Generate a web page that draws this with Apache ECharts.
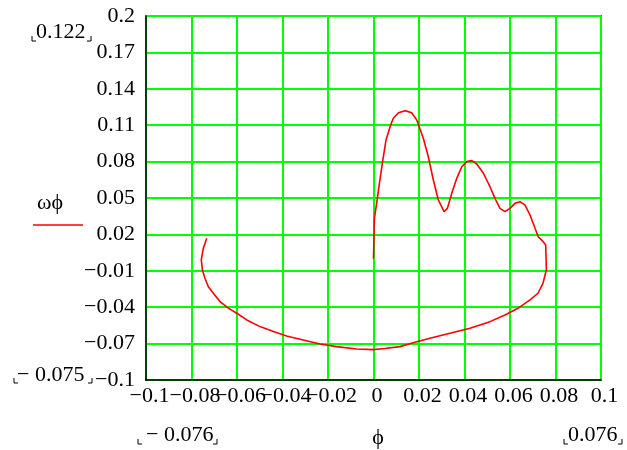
<!DOCTYPE html>
<html>
<head>
<meta charset="utf-8">
<script src="https://cdn.jsdelivr.net/npm/echarts@6/dist/echarts.min.js"></script>
<style>
  html, body { margin: 0; padding: 0; background: #fff; }
  #chart { width: 627px; height: 450px; }
</style>
</head>
<body>
<div id="chart"></div>
<script>
// Phase trajectory: angle phi against angular velocity omega-phi
const phi = [
  0, 0.0004, 0.0016, 0.0025, 0.004, 0.0055, 0.0073, 0.0087, 0.011, 0.0138,
  0.0168, 0.019, 0.0219, 0.0241, 0.0263, 0.0285, 0.031, 0.0325, 0.0344, 0.0366,
  0.0388, 0.041, 0.0432, 0.0454, 0.0483, 0.0512, 0.0534, 0.0556, 0.0578, 0.06,
  0.0622, 0.0644, 0.0666, 0.0688, 0.071, 0.0724, 0.0746, 0.0757, 0.076, 0.0756,
  0.0745, 0.0723, 0.0688, 0.0635, 0.0578, 0.0512, 0.0424, 0.0336, 0.0248, 0.0182,
  0.0116, 0.005, 0.0, -0.0074, -0.0162, -0.0235, -0.0309, -0.0382, -0.044, -0.0499,
  -0.0557, -0.0601, -0.0638, -0.0675, -0.0704, -0.0726, -0.0741, -0.0752, -0.0757, -0.0748,
  -0.0733
];
const omega = [
  0, 0.0333, 0.0484, 0.0607, 0.080, 0.0978, 0.1088, 0.1157, 0.1203, 0.122,
  0.1203, 0.1143, 0.0992, 0.084, 0.0648, 0.0484, 0.0387, 0.0415, 0.0539, 0.0662,
  0.0758, 0.080, 0.0808, 0.078, 0.0704, 0.0593, 0.0497, 0.0415, 0.0387, 0.0415,
  0.0456, 0.047, 0.0442, 0.036, 0.025, 0.0181, 0.014, 0.0113, -0.0093, -0.012,
  -0.0203, -0.0285, -0.034, -0.0409, -0.0464, -0.0519, -0.0574, -0.0615, -0.0656, -0.0689,
  -0.0725, -0.074, -0.075, -0.0744, -0.0725, -0.0703, -0.067, -0.0637, -0.0601, -0.056,
  -0.0505, -0.045, -0.0408, -0.0354, -0.0285, -0.0231, -0.0161, -0.0093, -0.001, 0.0086,
  0.0168
];

// Axis ranges and steps
const xRange = { min: -0.1, max: 0.1, step: 0.02 };
const yRange = { min: -0.1, max: 0.2, step: 0.03 };

// Range annotations and labels
const yTopLimit = '0.122';
const yBottomLimit = '\u2212 0.075';
const xLeftLimit = '\u2212 0.076';
const xRightLimit = '0.076';
const seriesName = 'ω\u03D5';
const xName = '\u03D5';

const FONT = '"Liberation Serif", "Times New Roman", serif';
const FS = 22;

function fmt(v) {
  const s = String(+v.toFixed(3));
  return s.replace('-', '\u2212');
}

// small corner marks drawn under a limit label
function bracket(x, y, dir) {
  return {
    type: 'polyline',
    shape: { points: [[x, y - 5], [x, y], [x + dir * 4, y]] },
    style: { stroke: '#000', lineWidth: 1, fill: null },
    silent: true
  };
}
function label(text, x, y, align) {
  return {
    type: 'text',
    style: { text: text, x: x, y: y, font: FS + 'px ' + FONT, fill: '#000',
             textAlign: align || 'left', textVerticalAlign: 'middle' },
    silent: true
  };
}

const chart = echarts.init(document.getElementById('chart'), null, { renderer: 'canvas' });
chart.setOption({
  animation: false,
  backgroundColor: '#fff',
  grid: {
    left: 146, right: 26, top: 16, bottom: 70,
    show: true, borderColor: '#000', borderWidth: 1.5, backgroundColor: 'transparent'
  },
  xAxis: {
    type: 'value',
    min: xRange.min, max: xRange.max, interval: xRange.step,
    axisLine: { show: true, onZero: false, lineStyle: { color: '#000', width: 1.5 } },
    axisTick: { show: false },
    splitLine: { show: true, lineStyle: { color: '#00ff00', width: 2 } },
    axisLabel: { color: '#000', fontFamily: FONT, fontSize: FS, margin: 5,
                 padding: [0, 0, 0, 7],
                 hideOverlap: false, showMinLabel: true, showMaxLabel: true, formatter: fmt }
  },
  yAxis: {
    type: 'value',
    min: yRange.min, max: yRange.max, interval: yRange.step,
    axisLine: { show: true, onZero: false, lineStyle: { color: '#000', width: 1.5 } },
    axisTick: { show: false },
    splitLine: { show: true, lineStyle: { color: '#00ff00', width: 2 } },
    axisLabel: { color: '#000', fontFamily: FONT, fontSize: FS, margin: 11,
                 hideOverlap: false, showMinLabel: true, showMaxLabel: true, formatter: fmt }
  },
  series: [{
    name: seriesName,
    type: 'line',
    data: phi.map((p, i) => [p, omega[i]]),
    showSymbol: false,
    smooth: false,
    lineStyle: { color: '#ff0000', width: 1.6 },
    z: 5
  }],
  graphic: [
    label(yTopLimit, 36, 32),
    bracket(32, 41, 1), bracket(91, 41, -1),
    label(yBottomLimit, 17, 375),
    bracket(14, 383, 1), bracket(92, 383, -1),
    label(xLeftLimit, 146, 435),
    bracket(138, 444, 1), bracket(217, 444, -1),
    label(xRightLimit, 568, 435),
    bracket(564, 444, 1), bracket(622, 444, -1),
    label(seriesName, 37, 203),
    {
      type: 'line',
      shape: { x1: 33, y1: 225, x2: 83, y2: 225 },
      style: { stroke: '#ff0000', lineWidth: 1.5 },
      silent: true
    },
    label(xName, 378, 438, 'center')
  ]
});
</script>
</body>
</html>
